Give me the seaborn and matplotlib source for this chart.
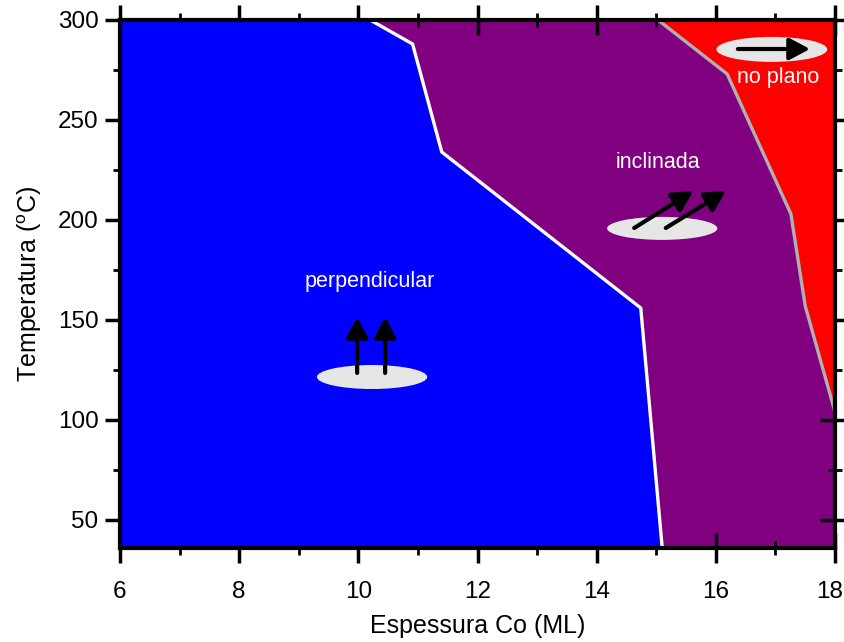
import matplotlib
matplotlib.use("Agg")
import matplotlib.pyplot as plt
import matplotlib.transforms as mtransforms
import seaborn as sns
import pandas as pd
from matplotlib.patches import Ellipse

# ---- data ----
white_x = [10.20, 10.91, 11.40, 14.74, 15.10]   # perpendicular / inclinada boundary
white_y = [300, 288, 234, 156, 36]
gray_x = [15.03, 16.19, 17.26, 17.50, 18.0]     # inclinada / no plano boundary
gray_y = [300, 273, 203, 157, 104]

region_labels = ["perpendicular", "inclinada", "no plano"]
label_x = [10.2, 15.03, 17.04]
label_y = [169.5, 228.5, 271.5]

xticks = [6, 8, 10, 12, 14, 16, 18]
yticks = [50, 100, 150, 200, 250, 300]

sns.set_theme(style="white")
plt.rcParams['font.family'] = ['Liberation Sans', 'DejaVu Sans']
plt.rcParams['mathtext.fontset'] = 'custom'
plt.rcParams['mathtext.rm'] = 'Liberation Sans'
plt.rcParams['mathtext.it'] = 'Liberation Sans'

fig = plt.figure(figsize=(8.44, 6.42), dpi=100)
ax = fig.add_axes([120/844, 1-548/642, 715/844, 528/642])
ax.set_facecolor('#800080')

xmin, xmax, ymin, ymax = 6, 18, 36, 300
ax.fill_betweenx(white_y, xmin, white_x, color='#0000ff', lw=0)
ax.fill_betweenx(gray_y, gray_x, xmax, color='#ff0000', lw=0)

df_w = pd.DataFrame({"x": white_x, "y": white_y})
df_g = pd.DataFrame({"x": gray_x, "y": gray_y})
sns.lineplot(data=df_w, x="x", y="y", sort=False, estimator=None, color='white', lw=2.4, ax=ax)
sns.lineplot(data=df_g, x="x", y="y", sort=False, estimator=None, color='#b0b0b0', lw=2.4, ax=ax)

# ellipses
ell_c = '#e6e6e6'
for (cx, cy, w, h) in [(10.23, 121.5, 1.85, 12), (15.10, 195.8, 1.85, 11.5), (16.94, 285.3, 1.86, 12.5)]:
    ax.add_patch(Ellipse((cx, cy), w, h, facecolor=ell_c, edgecolor='none', zorder=3))

arrow_kw = dict(arrowstyle='-|>,head_length=0.62,head_width=0.33', lw=3, color='black',
                mutation_scale=20, shrinkA=0, shrinkB=0)
arrows = [((9.98, 123.5), (9.98, 151.5)), ((10.45, 123.5), (10.45, 151.5)),
          ((14.63, 196), (15.62, 214.5)), ((15.16, 196), (16.17, 214.5)),
          ((16.37, 285.5), (17.58, 285.5))]
for tail, tip in arrows:
    ax.annotate('', xy=tip, xytext=tail, arrowprops=arrow_kw, zorder=4)

for t, x, y in zip(region_labels, label_x, label_y):
    ax.text(x, y, t, color='white', fontsize=15.5, ha='center', va='center', zorder=5)

ax.set_xlim(xmin, xmax)
ax.set_ylim(ymin, ymax)
ax.set_xticks(xticks)
ax.set_yticks(yticks)
ax.set_xticks([7, 9, 11, 13, 15, 17], minor=True)
ax.set_yticks([75, 125, 175, 225, 275], minor=True)
ax.tick_params(which='major', direction='inout', length=21, width=2.5, top=True, right=True,
               bottom=True, left=True, labelsize=17.5, colors='black', labelcolor='black', pad=5)
ax.tick_params(which='minor', direction='inout', length=10.5, width=2, top=True, right=True,
               bottom=True, left=True, colors='black')
ax.tick_params(axis='x', which='major', pad=13)
for s in ax.spines.values():
    s.set_visible(True)
    s.set_color('black')
    s.set_linewidth(3)
    s.set_zorder(10)

ax.set_xlabel('Espessura Co (ML)', fontsize=18, labelpad=8, color='black')
ax.set_ylabel(r'Temperatura ($^{\mathrm{o}}$C)', fontsize=18, labelpad=10, color='black')

# nudge the last x tick label a little left so it stays inside the canvas
last = ax.get_xticklabels()[-1]
last.set_transform(last.get_transform() + mtransforms.ScaledTranslation(-5/100, 0, fig.dpi_scale_trans))

fig.savefig('out.png', dpi=100)
